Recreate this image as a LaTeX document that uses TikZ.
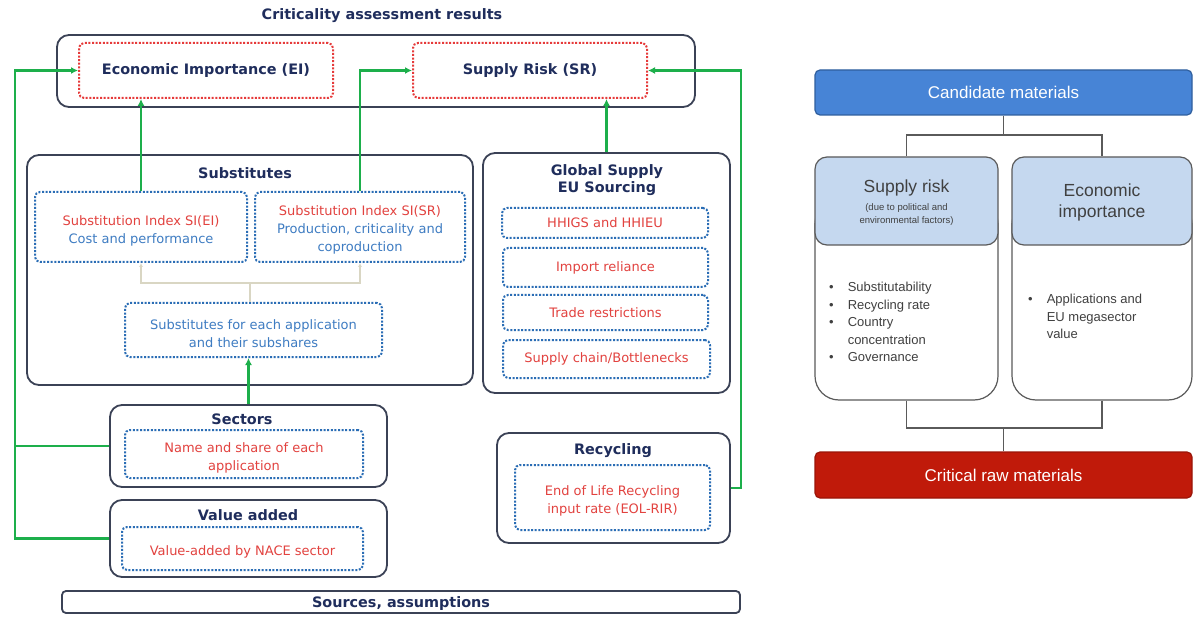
\documentclass[tikz,border=0pt]{standalone}
\usepackage{fontspec}
\setmainfont{DejaVu Sans}
\newfontfamily\arialf{Liberation Sans}
\usetikzlibrary{fit,arrows.meta}
\definecolor{navy}{HTML}{1F2D5C}
\definecolor{boxgray}{HTML}{3B4256}
\definecolor{dotred}{HTML}{E63A3A}
\definecolor{dotblue}{HTML}{2A6DB5}
\definecolor{txtred}{HTML}{E2423F}
\definecolor{txtblue}{HTML}{3E7CC2}
\definecolor{agreen}{HTML}{1DAF4B}
\definecolor{lightc}{HTML}{D9D6C3}
\definecolor{candblue}{HTML}{4784D6}
\definecolor{candedge}{HTML}{2F5F9E}
\definecolor{headblue}{HTML}{C5D8EF}
\definecolor{rgray}{HTML}{5A5A5A}
\definecolor{critred}{HTML}{C01A0A}
\definecolor{rtext}{HTML}{404040}
\begin{document}
\begin{tikzpicture}[x=1pt,y=-1pt,
  outer/.style={draw=boxgray, line width=1.8pt, rounded corners=12pt, fill=white, inner sep=0pt},
  rdot/.style={draw=dotred, line width=2pt, dash pattern=on 2pt off 1.6pt, rounded corners=5pt, inner sep=0pt},
  bdot/.style={draw=dotblue, line width=2pt, dash pattern=on 2pt off 1.6pt, rounded corners=5pt, inner sep=0pt},
  ttl/.style={font=\fontsize{14.4}{17}\selectfont\bfseries, text=navy, align=center},
  rtxt/.style={font=\fontsize{13}{18}\selectfont, text=txtred, align=center},
  btxt/.style={font=\fontsize{13}{18}\selectfont, text=txtblue, align=center},
  garrow/.style={draw=agreen, line width=2.2pt, -{Latex[length=7pt,width=7pt]}},
  gline/.style={draw=agreen, line width=2.2pt},
  lightarr/.style={draw=lightc, line width=1.5pt, -{Latex[length=4pt,width=4pt]}},
  lightln/.style={draw=lightc, line width=1.5pt},
  rconn/.style={draw=rgray, line width=1.2pt},
  rbar/.style={rounded corners=5pt, line width=1.2pt, inner sep=0pt},
  rbartxt/.style={text=white, font=\arialf\fontsize{17}{20}\selectfont},
  rhead/.style={draw=rgray, fill=headblue, line width=1.2pt, rounded corners=12pt, inner sep=0pt},
  rbody/.style={draw=rgray, fill=white, line width=1.2pt, rounded corners=24pt, inner sep=0pt},
  rbig/.style={font=\arialf\fontsize{17.5}{21}\selectfont, text=rtext, align=center},
  rsmall/.style={font=\arialf\fontsize{9.5}{13}\selectfont, text=rtext, align=center},
  rlist/.style={font=\arialf\fontsize{13}{17.5}\selectfont, text=rtext, anchor=base west, inner sep=0pt}
]
\useasboundingbox (0,0) rectangle (1193,617);
\fill[white] (0,0) rectangle (1193,617);

% ---------- left diagram ----------
\node[ttl] (title) at (382,16) {Criticality assessment results};
\node[outer, fit={(57,35) (695,107)}] (top) {};
\node[rdot, fit={(79,43) (333,98)}] (ei) {};
\node[ttl] (eitxt) at (ei.center) {Economic Importance (EI)};
\node[rdot, fit={(413,43) (647,98)}] (sr) {};
\node[ttl] (srtxt) at (sr.center) {Supply Risk (SR)};

\node[outer, fit={(27,155) (473,385)}] (subs) {};
\node[ttl] (substtl) at (245,173) {Substitutes};
\node[bdot, fit={(35,192) (247,262)}] (siei) {};
\node[rtxt] (sieitxt) at ([yshift=-4]siei.center) {Substitution Index SI(EI)\\\textcolor{txtblue}{Cost and performance}};
\node[bdot, fit={(255,192) (465,262)}] (sisr) {};
\node[rtxt] (sisrtxt) at ([yshift=-3]sisr.center) {Substitution Index SI(SR)\\\textcolor{txtblue}{Production, criticality and}\\\textcolor{txtblue}{coproduction}};
\node[bdot, fit={(125,303) (382,357)}] (subapp) {};
\node[btxt] (subapptxt) at ([yshift=-4]subapp.center) {Substitutes for each application\\and their subshares};
\coordinate (jn) at (250,283);
\draw[lightln] (subapp.north -| jn) -- (jn);
\draw[lightarr] (jn) -| (siei.south);
\draw[lightarr] (jn) -| (sisr.south);

\node[outer, fit={(483,153) (730,393)}] (gs) {};
\node[ttl] (gsttl) at (607,180) {Global Supply\\EU Sourcing};
\node[bdot, fit={(502,208) (708,238)}] (hhi) {};
\node[rtxt] (hhitxt) at (hhi.center) {HHIGS and HHIEU};
\node[bdot, fit={(503,248) (708,287)}] (imp) {};
\node[rtxt] (imptxt) at (imp.center) {Import reliance};
\node[bdot, fit={(503,295) (708,330)}] (trade) {};
\node[rtxt] (tradetxt) at (trade.center) {Trade restrictions};
\node[bdot, fit={(503,340) (710,378)}] (chain) {};
\node[rtxt] (chaintxt) at (chain.center) {Supply chain/Bottlenecks};

\node[outer, fit={(110,405) (387,487)}] (sect) {};
\node[ttl] (sectttl) at (242,419) {Sectors};
\node[bdot, fit={(125,430) (363,478)}] (sectin) {};
\node[rtxt] (sectintxt) at ([yshift=-4]sectin.center) {Name and share of each\\application};

\node[outer, fit={(110,500) (387,577)}] (va) {};
\node[ttl] (vattl) at (248,515) {Value added};
\node[bdot, fit={(122,527) (363,570)}] (vain) {};
\node[rtxt] (vaintxt) at ([yshift=-3]vain.center) {Value-added by NACE sector};

\node[outer, fit={(497,433) (730,543)}] (rec) {};
\node[ttl] (recttl) at (613,451) {Recycling};
\node[bdot, fit={(515,465) (710,530)}] (recin) {};
\node[rtxt] (recintxt) at ([yshift=-3]recin.center) {End of Life Recycling\\input rate (EOL-RIR)};

\node[outer, rounded corners=4pt, fit={(62,591) (740,613)}] (src) {};
\node[ttl] (srctxt) at ([yshift=-1.5]src.center) {Sources, assumptions};

% green connectors
\draw[garrow] (siei.north) -- (siei.north |- ei.south);
\draw[garrow] (sisr.north) |- (sr.west);
\draw[garrow] (gs.north) -- (gs.north |- sr.south);
\draw[garrow] (rec.east) -- ++(10,0) |- (sr.east);
\draw[gline] (sect.west) -- (15,446);
\draw[garrow] (va.west) -- (15,538.5) |- (ei.west);
\draw[garrow] (sect.north) -- (sect.north |- subapp.south);

% ---------- right diagram ----------
\node[rbar, draw=candedge, fill=candblue, fit={(815,70) (1192,115)}] (cand) {};
\node[rbartxt] (candtxt) at (cand.center) {Candidate materials};
\node[rbody, fit={(815,200) (998,400)}] (srbody) {};
\node[rhead, fit={(815,157) (998,245)}] (srhead) {};
\node[rbody, fit={(1012,200) (1192,400)}] (eibody) {};
\node[rhead, fit={(1012,157) (1192,245)}] (eihead) {};
\node[rbar, draw=critred!80!black, fill=critred, fit={(815,452) (1192,498)}] (crit) {};
\node[rbartxt] (crittxt) at (crit.center) {Critical raw materials};

\node[rbig] (srt) at (906.5,188) {Supply risk};
\node[rsmall] (srs) at (906.5,215) {(due to political and\\environmental factors)};
\node[rbig] (eit) at (1102,202) {Economic\\importance};

\node[rlist] (srlist) at (829,292) {\begin{tabular}[t]{@{}l@{\hspace{14pt}}l@{}}
\textbullet & Substitutability\\
\textbullet & Recycling rate\\
\textbullet & Country\\
 & concentration\\
\textbullet & Governance
\end{tabular}};
\node[rlist] (eilist) at (1028,304) {\begin{tabular}[t]{@{}l@{\hspace{14pt}}l@{}}
\textbullet & Applications and\\
 & EU megasector\\
 & value
\end{tabular}};

\coordinate (rj1) at (1003.5,135);
\draw[rconn] (cand.south) -- (rj1);
\draw[rconn] (rj1) -| (srhead.north);
\draw[rconn] (rj1) -| (eihead.north);
\coordinate (rj2) at (1003.5,428);
\draw[rconn] (srbody.south) |- (rj2);
\draw[rconn] (eibody.south) |- (rj2);
\draw[rconn] (rj2) -- (crit.north);
\end{tikzpicture}
\end{document}
